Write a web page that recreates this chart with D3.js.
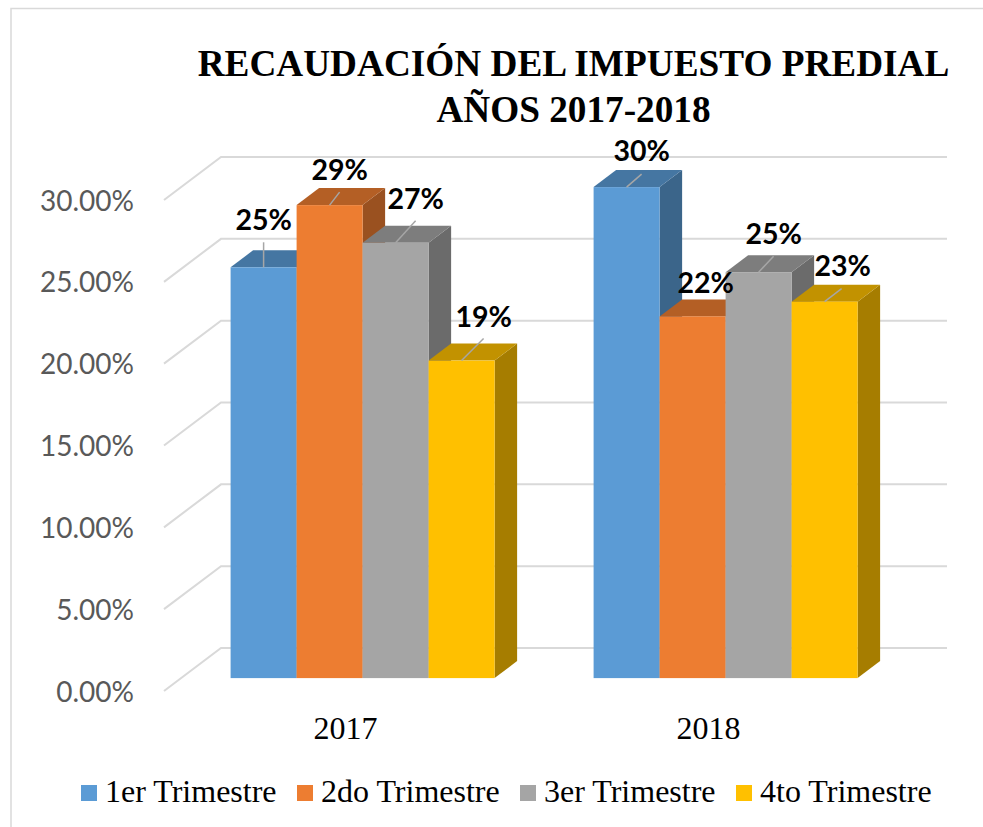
<!DOCTYPE html>
<html>
<head>
<meta charset="utf-8">
<script src="https://cdn.jsdelivr.net/npm/d3@7"></script>
<style>
  html, body { margin: 0; padding: 0; background: #fff; }
  svg { display: block; }
</style>
</head>
<body>
<script>
// values
var years = ["2017", "2018"];
var seriesNames = ["1er Trimestre", "2do Trimestre", "3er Trimestre", "4to Trimestre"];
var trimestre1 = [0.251, 0.300];
var trimestre2 = [0.289, 0.221];
var trimestre3 = [0.266, 0.248];
var trimestre4 = [0.194, 0.230];
var dataLabels1 = ["25%", "30%"];
var dataLabels2 = ["29%", "22%"];
var dataLabels3 = ["27%", "25%"];
var dataLabels4 = ["19%", "23%"];
var yTicks = [0, 0.05, 0.10, 0.15, 0.20, 0.25, 0.30];
var titleLines = ["RECAUDACIÓN DEL IMPUESTO PREDIAL", "AÑOS 2017-2018"];
var seriesColors = ["#5b9bd5", "#ed7d31", "#a5a5a5", "#ffc000"];

var allValues = [trimestre1, trimestre2, trimestre3, trimestre4];
var allLabels = [dataLabels1, dataLabels2, dataLabels3, dataLabels4];

// label placement relative to the centre of each bar's front top edge
var labelOffsets = [
    [[0, -37], [15, -26]],
    [[10, -25], [13, -23]],
    [[20, -34], [15, -28]],
    [[22, -34], [18, -26]]
];
// leader line ends, same reference point; the 2018 orange one is not visible
var leaderEnds = [
    [[0, -25], [15, -13]],
    [[10, -13], null],
    [[20, -22], [15, -16]],
    [[22, -22], [17, -13]]
];
var legendX = [81, 297, 520, 736];

var width = 983, height = 827;

var svg = d3.select("body")
    .append("svg")
    .attr("width", width)
    .attr("height", height);

// chart frame, only top and left edges fall inside the picture
svg.append("path")
    .attr("d", "M11,827V8.5H983")
    .attr("fill", "none")
    .attr("stroke", "#d9d9d9")
    .attr("stroke-width", 1.5);

var x = d3.scaleBand().domain(years).range([164, 890]);
var xInner = d3.scaleBand()
    .domain(seriesNames)
    .range([0, x.bandwidth()])
    .paddingInner(0)
    .paddingOuter(0.75);
var y = d3.scaleLinear().domain([0, 0.30]).range([691, 200]);

// oblique projection: depth goes from 0 (front of floor) to 1 (back wall)
var depthX = 57, depthY = 43;
var zFront = 0.30, zBack = 0.695;
function px(v, z) { return v + z * depthX; }
function py(v, z) { return v - z * depthY; }
function quad(points) { return "M" + points.map(function (p) { return p.join(","); }).join("L") + "Z"; }
function shade(c, k) {
    var r = d3.rgb(c);
    return d3.rgb(r.r * k, r.g * k, r.b * k).formatHex();
}

// gridlines on floor edge and back wall
svg.append("g")
    .attr("class", "grid")
    .selectAll("path")
    .data(yTicks)
    .enter().append("path")
    .attr("d", function (d) {
        return "M" + px(x.range()[0], 0) + "," + py(y(d), 0) +
            "L" + px(x.range()[0], 1) + "," + py(y(d), 1) +
            "L" + px(x.range()[1], 1) + "," + py(y(d), 1);
    })
    .attr("fill", "none")
    .attr("stroke", "#d9d9d9")
    .attr("stroke-width", 2);

// y axis
var yAxis = d3.axisLeft(y)
    .tickValues(yTicks)
    .tickFormat(d3.format(".2%"))
    .tickSize(0)
    .tickPadding(29);
var gY = svg.append("g")
    .attr("transform", "translate(163,0)")
    .call(yAxis);
gY.select(".domain").remove();
gY.selectAll("text")
    .attr("font-family", "Lato, sans-serif")
    .attr("font-size", 28)
    .attr("dy", "0.36em")
    .attr("fill", "#595959");

// x axis
var xAxis = d3.axisBottom(x).tickSize(0).tickPadding(0);
var gX = svg.append("g")
    .attr("transform", "translate(0,716)")
    .call(xAxis);
gX.select(".domain").remove();
gX.selectAll("text")
    .attr("font-family", "'Liberation Serif', serif")
    .attr("font-size", 32)
    .attr("fill", "#000");

// bars, left to right so each one covers its neighbour's side face
years.forEach(function (year, yi) {
    seriesNames.forEach(function (name, si) {
        var v = allValues[si][yi];
        var x0 = x(year) + xInner(name), x1 = x0 + xInner.bandwidth();
        var base = y(0), top = y(v);
        var color = seriesColors[si];
        var g = svg.append("g").attr("class", "bar");

        g.append("path")
            .attr("d", quad([
                [px(x1, zFront), py(top, zFront)],
                [px(x1, zBack), py(top, zBack)],
                [px(x1, zBack), py(base, zBack)],
                [px(x1, zFront), py(base, zFront)]
            ]))
            .attr("fill", shade(color, 0.65));
        g.append("path")
            .attr("d", quad([
                [px(x0, zFront), py(top, zFront)],
                [px(x1, zFront), py(top, zFront)],
                [px(x1, zBack), py(top, zBack)],
                [px(x0, zBack), py(top, zBack)]
            ]))
            .attr("fill", shade(color, 0.76));
        g.append("rect")
            .attr("x", px(x0, zFront))
            .attr("y", py(top, zFront))
            .attr("width", x1 - x0)
            .attr("height", base - top)
            .attr("fill", color);
    });
});

// leader lines and data labels go above all bars
years.forEach(function (year, yi) {
    seriesNames.forEach(function (name, si) {
        var v = allValues[si][yi];
        var cx = px(x(year) + xInner(name) + xInner.bandwidth() / 2, zFront);
        var cy = py(y(v), zFront);
        var end = leaderEnds[si][yi];
        if (end) {
            svg.append("line")
                .attr("x1", cx)
                .attr("y1", cy)
                .attr("x2", cx + end[0])
                .attr("y2", cy + end[1])
                .attr("stroke", "#a6a6a6")
                .attr("stroke-width", 1.5);
        }
    });
});

years.forEach(function (year, yi) {
    seriesNames.forEach(function (name, si) {
        var v = allValues[si][yi];
        var cx = px(x(year) + xInner(name) + xInner.bandwidth() / 2, zFront);
        var cy = py(y(v), zFront);
        var off = labelOffsets[si][yi];
        svg.append("text")
            .attr("x", cx + off[0])
            .attr("y", cy + off[1])
            .attr("text-anchor", "middle")
            .attr("font-family", "Lato, sans-serif")
            .attr("font-weight", 700)
            .attr("font-size", 28.5)
            .attr("fill", "#000")
            .text(allLabels[si][yi]);
    });
});

// title
svg.append("g")
    .selectAll("text")
    .data(titleLines)
    .enter().append("text")
    .attr("x", 573.5)
    .attr("y", function (d, i) { return 76 + i * 46; })
    .attr("text-anchor", "middle")
    .attr("font-family", "'Liberation Serif', serif")
    .attr("font-weight", 700)
    .attr("font-size", 37.25)
    .attr("fill", "#000")
    .text(function (d) { return d; });

// legend
var legend = svg.append("g")
    .selectAll("g")
    .data(seriesNames)
    .enter().append("g")
    .attr("transform", function (d, i) { return "translate(" + legendX[i] + ",785)"; });
legend.append("rect")
    .attr("width", 16)
    .attr("height", 16)
    .attr("fill", function (d, i) { return seriesColors[i]; });
legend.append("text")
    .attr("x", 24)
    .attr("y", 17)
    .attr("font-family", "'Liberation Serif', serif")
    .attr("font-size", 32)
    .attr("fill", "#000")
    .text(function (d) { return d; });
</script>
</body>
</html>
